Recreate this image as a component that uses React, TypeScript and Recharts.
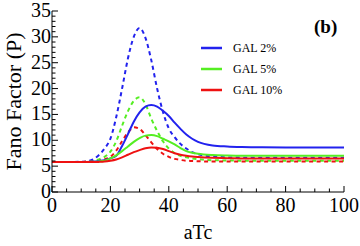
import { LineChart, Line, XAxis, YAxis, Legend } from 'recharts'

const atc = [0, 5, 10, 12, 14, 16, 18, 20, 22, 24, 26, 28, 30, 32, 34, 36, 38, 40, 42, 44, 46, 48, 50, 55, 60, 65, 70, 80, 90, 100]

// solid curves
const gal2 = [5.8, 5.8, 5.8, 5.82, 5.88, 6.0, 6.15, 6.5, 7.0, 8.9, 11.2, 13.6, 15.4, 16.5, 16.8, 16.5, 15.7, 14.7, 13.4, 12.2, 11.1, 10.3, 9.7, 9.0, 8.8, 8.7, 8.65, 8.6, 8.6, 8.6]
const gal5 = [5.8, 5.8, 5.8, 5.8, 5.82, 5.9, 6.05, 6.5, 7.1, 7.9, 8.8, 9.7, 10.4, 10.9, 11.0, 10.8, 10.3, 9.8, 9.2, 8.5, 7.9, 7.6, 7.4, 7.15, 7.05, 7.0, 7.0, 7.0, 7.0, 7.0]
const gal10 = [5.8, 5.8, 5.8, 5.8, 5.8, 5.82, 5.88, 6.05, 6.3, 6.7, 7.2, 7.7, 8.1, 8.45, 8.6, 8.55, 8.3, 7.9, 7.5, 7.2, 7.0, 6.85, 6.75, 6.6, 6.55, 6.5, 6.5, 6.5, 6.5, 6.5]

// dashed curves
const gal2d = [5.8, 5.8, 5.85, 5.95, 6.3, 7.1, 8.4, 10.3, 14.5, 20, 25.8, 30, 31.7, 29.8, 25.5, 20, 15.5, 12.3, 10.6, 9.3, 8.4, 7.7, 7.3, 6.9, 6.7, 6.65, 6.6, 6.6, 6.6, 6.6]
const gal5d = [5.8, 5.8, 5.82, 5.88, 6.0, 6.3, 6.8, 7.8, 9.8, 12.8, 15.6, 17.6, 18.3, 17.0, 14.2, 11.8, 9.8, 8.4, 7.5, 7.0, 6.7, 6.5, 6.35, 6.15, 6.1, 6.05, 6.05, 6.05, 6.05, 6.05]
const gal10d = [5.8, 5.8, 5.8, 5.85, 5.9, 6.0, 6.3, 6.8, 8.0, 9.8, 11.5, 12.5, 12.2, 11.0, 9.6, 8.3, 7.4, 6.8, 6.4, 6.2, 6.05, 6.0, 5.95, 5.9, 5.9, 5.9, 5.9, 5.9, 5.9, 5.9]

const seriesNames = ['GAL 2%', 'GAL 5%', 'GAL 10%']
const colors = ['#2222ee', '#55ee22', '#ee1111']

const xTicks = Array.from({ length: 21 }, (_, i) => i * 5)
const yTicks = Array.from({ length: 36 }, (_, i) => i)

const data = atc.map((x, i) => ({
  x,
  s0: gal2[i], s1: gal5[i], s2: gal10[i],
  d0: gal2d[i], d1: gal5d[i], d2: gal10d[i],
}))

const FONT = '"Liberation Serif", "Times New Roman", serif'

function makeXTick(dir: number, labels: boolean) {
  return (props: any) => {
    const { x, y, payload } = props
    const major = payload.value % 20 === 0
    const len = major ? 6 : 3.5
    return (
      <g>
        <line x1={x} x2={x} y1={y} y2={y - dir * len} stroke="#000" strokeWidth={1} />
        {labels && major && (
          <text x={x} y={y + 20} textAnchor="middle" fontFamily={FONT} fontSize={20} fill="#000">
            {payload.value}
          </text>
        )}
      </g>
    )
  }
}

function makeYTick(dir: number, labels: boolean) {
  return (props: any) => {
    const { x, y, payload } = props
    const major = payload.value % 5 === 0
    const len = major ? 6 : 3.5
    return (
      <g>
        <line x1={x} x2={x + dir * len} y1={y} y2={y} stroke="#000" strokeWidth={1} />
        {labels && major && (
          <text x={x - 1} y={y + 6} textAnchor="end" fontFamily={FONT} fontSize={20} fill="#000">
            {payload.value}
          </text>
        )}
      </g>
    )
  }
}

function renderLegend() {
  return (
    <svg width={120} height={60}>
      {seriesNames.map((name, i) => (
        <g key={name}>
          <line x1={0} x2={21} y1={8 + i * 21} y2={8 + i * 21} stroke={colors[i]} strokeWidth={2.5} />
          <text x={32} y={12 + i * 21} fontFamily={FONT} fontSize={12} fill="#000">{name}</text>
        </g>
      ))}
    </svg>
  )
}

export default function App() {
  return (
    <div style={{ position: 'absolute', left: 0, top: 0, width: 360, height: 246, background: '#fff' }}>
      <LineChart width={360} height={246} data={data} margin={{ top: 11, right: 16, bottom: 0, left: 0 }}>
        <XAxis
          xAxisId="b"
          dataKey="x"
          type="number"
          domain={[0, 100]}
          ticks={xTicks}
          interval={0}
          height={54}
          tickSize={0}
          tickMargin={0}
          tickLine={false}
          axisLine={{ stroke: '#000' }}
          tick={makeXTick(1, true)}
          label={{ value: 'aTc', position: 'center', dy: 13, fontFamily: FONT, fontSize: 20, fill: '#000' }}
        />
        <XAxis
          xAxisId="t"
          orientation="top"
          dataKey="x"
          type="number"
          domain={[0, 100]}
          ticks={xTicks}
          interval={0}
          height={0}
          tickSize={0}
          tickMargin={0}
          tickLine={false}
          axisLine={{ stroke: '#000' }}
          tick={makeXTick(-1, false)}
        />
        <YAxis
          yAxisId="l"
          type="number"
          domain={[0, 35]}
          ticks={yTicks}
          interval={0}
          width={52}
          tickSize={0}
          tickMargin={0}
          tickLine={false}
          axisLine={{ stroke: '#000' }}
          tick={makeYTick(1, true)}
          label={{ value: 'Fano Factor (P)', angle: -90, position: 'center', dx: -13, fontFamily: FONT, fontSize: 22, fill: '#000' }}
        />
        <YAxis
          yAxisId="r"
          orientation="right"
          type="number"
          domain={[0, 35]}
          ticks={yTicks}
          interval={0}
          width={0}
          tickSize={0}
          tickMargin={0}
          tickLine={false}
          axisLine={{ stroke: '#000' }}
          tick={makeYTick(-1, false)}
        />
        <Legend
          layout="vertical"
          align="center"
          verticalAlign="middle"
          content={renderLegend}
          wrapperStyle={{ position: 'absolute', left: 201, top: 40, width: 120, height: 60 }}
        />
        {[0, 1, 2].map((i) => (
          <Line
            key={'d' + i}
            xAxisId="b"
            yAxisId="l"
            dataKey={'d' + i}
            type="monotone"
            stroke={colors[i]}
            strokeWidth={2}
            strokeDasharray="4 3.5"
            dot={false}
            isAnimationActive={false}
            legendType="none"
          />
        ))}
        {[0, 1, 2].map((i) => (
          <Line
            key={'s' + i}
            xAxisId="b"
            yAxisId="l"
            dataKey={'s' + i}
            name={seriesNames[i]}
            type="monotone"
            stroke={colors[i]}
            strokeWidth={2}
            dot={false}
            isAnimationActive={false}
          />
        ))}
      </LineChart>
      <div style={{ position: 'absolute', left: 314, top: 17, fontFamily: FONT, fontSize: 19, fontWeight: 'bold', lineHeight: '20px' }}>
        (b)
      </div>
    </div>
  )
}
